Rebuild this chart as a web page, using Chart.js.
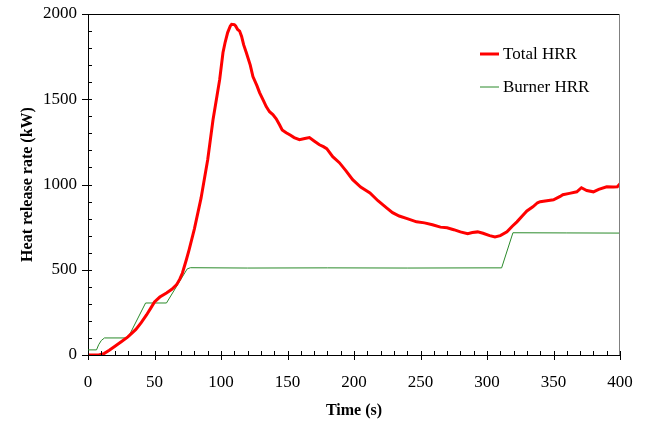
<!DOCTYPE html>
<html>
<head>
<meta charset="utf-8">
<script src="https://cdn.jsdelivr.net/npm/chart.js@4.4.1/dist/chart.umd.min.js"></script>
<style>
  html, body { margin: 0; padding: 0; background: #fff; }
  #wrap { width: 647px; height: 427px; }
</style>
</head>
<body>
<div id="wrap"><canvas id="hrr" width="647" height="427"></canvas></div>
<script>
// Total HRR (kW)
const totalTime = [0, 8, 12, 16, 20, 25, 30, 36, 40, 44, 48, 50, 54, 59, 63, 66.5, 69, 71, 74, 76, 80, 85, 90, 94, 97, 99, 101.5, 103, 105, 107, 108, 110, 111, 112.5, 114, 115.5, 117, 119, 122, 124, 127, 129, 132, 134, 136.5, 139, 141.5, 144, 146, 149, 152, 155, 159, 163, 166.5, 170, 174, 177, 179.5, 184, 189, 194, 199, 205, 212, 218, 224.5, 229, 234, 240, 247, 253, 259, 265, 270, 275, 280, 285.5, 289, 293, 297, 302, 306, 310, 315, 319, 322.5, 327, 330, 334.5, 338, 340, 345, 350, 355, 357, 362, 367.5, 371, 375, 380, 384, 390, 395, 398, 400];
const totalHRR = [0, 0, 8, 28, 50, 78, 106, 150, 190, 235, 285, 311, 340, 364, 385, 411, 445, 481, 560, 617, 740, 920, 1145, 1380, 1520, 1615, 1774, 1830, 1891, 1930, 1940, 1938, 1930, 1909, 1900, 1868, 1820, 1774, 1700, 1633, 1580, 1539, 1490, 1457, 1427, 1410, 1385, 1350, 1320, 1304, 1290, 1275, 1263, 1270, 1275, 1255, 1233, 1222, 1210, 1163, 1128, 1080, 1028, 985, 951, 905, 863, 835, 815, 800, 781, 775, 764, 750, 746, 735, 722, 711, 718, 722, 714, 700, 693, 700, 722, 755, 781, 820, 845, 869, 893, 899, 905, 910, 930, 940, 948, 957, 981, 965, 957, 972, 987, 985, 987, 1004];

// Burner HRR (kW)
const burnerTime = [0, 6.4, 8, 10, 12.4, 30, 43.3, 59, 74.6, 77, 120, 180, 240, 300, 311, 319.5, 360, 400];
const burnerHRR = [30, 30, 60, 85, 100, 100, 305, 305, 505, 512, 510, 511, 510, 511, 511, 717, 716, 715];

const seriesNames = ['Total HRR', 'Burner HRR'];
const seriesColors = ['#ff0000', '#2a8a2a'];

const xTicks = { min: 0, max: 400, major: 50, minor: 10 };
const yTicks = { min: 0, max: 2000, major: 500, minor: 100 };

const serif = "'Liberation Serif', 'Times New Roman', serif";

function pts(xs, ys) {
    return xs.map((x, i) => ({ x: x, y: ys[i] }));
}

// cadre, graduations et légende dessinés à la main
const framePlugin = {
    id: 'frame',
    afterDraw(chart) {
        const ctx = chart.ctx;
        const a = chart.chartArea;
        const xs = chart.scales.x, ys = chart.scales.y;
        ctx.save();
        ctx.lineWidth = 1;
        ctx.strokeStyle = '#000';
        ctx.beginPath();
        ctx.moveTo(a.left, a.top + 0.5);
        ctx.lineTo(a.right, a.top + 0.5);
        ctx.stroke();
        ctx.strokeStyle = '#808080';
        ctx.beginPath();
        ctx.moveTo(a.right - 0.5, a.top);
        ctx.lineTo(a.right - 0.5, a.bottom);
        ctx.stroke();

        ctx.strokeStyle = '#000';
        ctx.beginPath();
        for (let v = xTicks.min; v <= xTicks.max; v += xTicks.minor) {
            const px = Math.round(xs.getPixelForValue(v)) + 0.5;
            const isMajor = v % xTicks.major === 0;
            ctx.moveTo(px, a.bottom - 4);
            ctx.lineTo(px, a.bottom + (isMajor ? 5 : 0));
        }
        for (let v = yTicks.min; v <= yTicks.max; v += yTicks.minor) {
            const py = Math.round(ys.getPixelForValue(v)) + 0.5;
            const isMajor = v % yTicks.major === 0;
            ctx.moveTo(a.left - (isMajor ? 6 : 0), py);
            ctx.lineTo(a.left + 4, py);
        }
        ctx.stroke();

        // légende
        ctx.font = '17px ' + serif;
        ctx.textBaseline = 'middle';
        ctx.fillStyle = '#000';
        const rows = [54, 87];
        chart.data.datasets.forEach((ds, i) => {
            ctx.strokeStyle = ds.borderColor;
            ctx.lineWidth = ds.borderWidth;
            ctx.beginPath();
            ctx.moveTo(480, rows[i]);
            ctx.lineTo(499, rows[i]);
            ctx.stroke();
            ctx.fillText(ds.label, 503, rows[i] + 1);
        });
        ctx.restore();
    }
};

window.onload = function() {
    const ctx = document.getElementById('hrr').getContext('2d');
    new Chart(ctx, {
        type: 'line',
        data: {
            datasets: [
                {
                    label: seriesNames[0],
                    data: pts(totalTime, totalHRR),
                    borderColor: seriesColors[0],
                    borderWidth: 3,
                    pointRadius: 0,
                    tension: 0
                },
                {
                    label: seriesNames[1],
                    data: pts(burnerTime, burnerHRR),
                    borderColor: seriesColors[1],
                    borderWidth: 1,
                    pointRadius: 0,
                    tension: 0
                }
            ]
        },
        options: {
            responsive: false,
            animation: false,
            layout: { padding: { left: 0, right: 27, top: 14, bottom: 0 } },
            plugins: { legend: { display: false }, tooltip: { enabled: false } },
            scales: {
                x: {
                    type: 'linear',
                    min: xTicks.min,
                    max: xTicks.max,
                    afterFit(scale) { scale.height = 72; },
                    grid: { display: false, drawTicks: true, tickLength: 17 },
                    border: { display: true, color: '#000', width: 1 },
                    ticks: { stepSize: xTicks.major, padding: 0, color: '#000', font: { family: serif, size: 17 }, callback: v => String(v) },
                    title: { display: true, text: 'Time (s)', color: '#000', font: { family: serif, size: 16, weight: 'bold' }, padding: { top: 0, bottom: 7 } }
                },
                y: {
                    min: yTicks.min,
                    max: yTicks.max,
                    afterFit(scale) { scale.width = 88; },
                    grid: { display: false, drawTicks: true, tickLength: 11 },
                    border: { display: true, color: '#000', width: 1 },
                    ticks: { stepSize: yTicks.major, padding: 0, color: '#000', font: { family: serif, size: 17 }, callback: v => String(v) },
                    title: { display: true, text: 'Heat release rate (kW)', color: '#000', font: { family: serif, size: 16, weight: 'bold' }, padding: { top: 18, bottom: 0 } }
                }
            }
        },
        plugins: [framePlugin]
    });
};
</script>
</body>
</html>
